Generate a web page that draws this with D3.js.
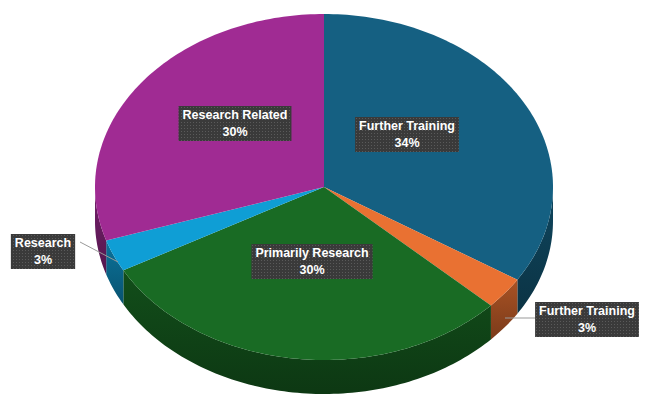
<!DOCTYPE html>
<html><head><meta charset="utf-8">
<script src="https://cdn.jsdelivr.net/npm/d3@7"></script>
<style>body{margin:0;background:#fff}</style>
</head><body>
<svg id="chart" width="655" height="417"></svg>
<script>
const labels = ["Further Training", "Further Training", "Primarily Research", "Research", "Research Related"];
const values = [34, 3, 30, 3, 30];
const colors = ["#156082", "#E97132", "#196B24", "#0F9ED5", "#A02B93"];
const labelPos = [[407, 133], [587, 318], [312, 260], [43, 250], [235, 122]];

const cx = 324, cy = 187, rx = 229, ry = 173, depth = 34;
const svg = d3.select("#chart");

const defs = svg.append("defs");
const pat = defs.append("pattern").attr("id", "dots").attr("width", 3).attr("height", 3)
  .attr("patternUnits", "userSpaceOnUse");
pat.append("rect").attr("width", 3).attr("height", 3).attr("fill", "#3a3a3a");
pat.append("rect").attr("width", 1).attr("height", 1).attr("fill", "#5a5a5a");

const pie = d3.pie().sort(null).value(d => d)(values);
const pt = (a, dy = 0) => [cx + rx * Math.sin(a), cy - ry * Math.cos(a) + dy];

function arcPts(a0, a1, dy) {
  const n = Math.max(2, Math.ceil((a1 - a0) / 0.02));
  return d3.range(n + 1).map(i => pt(a0 + (a1 - a0) * i / n, dy));
}

// sides (front half only: angle between PI/2 and 3PI/2)
pie.forEach((s, i) => {
  const a0 = Math.max(s.startAngle, Math.PI / 2), a1 = Math.min(s.endAngle, 3 * Math.PI / 2);
  if (a1 <= a0) return;
  const top = arcPts(a0, a1, 0), bot = arcPts(a0, a1, depth).reverse();
  const grad = defs.append("linearGradient").attr("id", "g" + i).attr("x1", 0).attr("y1", 0).attr("x2", 0).attr("y2", 1);
  grad.append("stop").attr("offset", 0).attr("stop-color", d3.color(colors[i]).darker(0.9));
  grad.append("stop").attr("offset", 1).attr("stop-color", d3.color(colors[i]).darker(1.8));
  svg.append("path").attr("d", "M" + top.concat(bot).join("L") + "Z").attr("fill", `url(#g${i})`);
});

// tops
pie.forEach((s, i) => {
  const p = arcPts(s.startAngle, s.endAngle, 0);
  svg.append("path").attr("d", `M${cx},${cy}L` + p.join("L") + "Z").attr("fill", colors[i]);
});

// leader lines for small slices
[[1, [505, 318], [548, 318]], [3, [118, 262], [80, 242]]].forEach(([i, a, b]) => {
  svg.append("path").attr("d", `M${a}L${b}`).attr("stroke", "#999").attr("fill", "none");
});

// labels
pie.forEach((s, i) => {
  const [x, y] = labelPos[i];
  const g = svg.append("g").attr("transform", `translate(${x},${y})`);
  const t = g.append("text").attr("text-anchor", "middle").attr("fill", "#fff")
    .style("font", "bold 12.5px 'Liberation Sans', Arial, sans-serif");
  t.append("tspan").attr("x", 0).attr("dy", -3).text(labels[i]);
  t.append("tspan").attr("x", 0).attr("dy", 17).text(values[i] + "%");
  const bb = t.node().getBBox();
  g.insert("rect", "text").attr("x", bb.x - 4).attr("y", bb.y - 2)
    .attr("width", bb.width + 8).attr("height", bb.height + 4).attr("fill", "url(#dots)");
});
</script>
</body></html>
